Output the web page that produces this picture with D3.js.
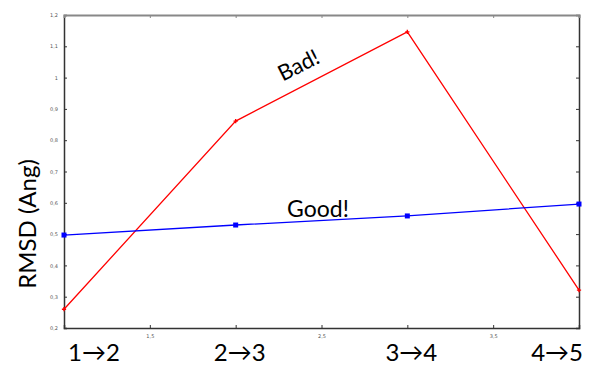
<!DOCTYPE html>
<html>
<head>
<meta charset="utf-8">
<script src="https://cdn.jsdelivr.net/npm/d3@7"></script>
<style>
  body { margin: 0; background: #fff; }
  svg { display: block; }
  .small-tick text { font-family: "DejaVu Sans", sans-serif; font-size: 5px; fill: #555; }
</style>
</head>
<body>
<svg id="chart" width="595" height="374"></svg>
<script>
// Chart data
const steps = [1, 2, 3, 4];
const stepLabels = ["1\u21922", "2\u21923", "3\u21924", "4\u21925"];
const badValues = [0.26, 0.861, 1.146, 0.321];
const goodValues = [0.497, 0.529, 0.558, 0.596];
const yTicks = [0.2, 0.3, 0.4, 0.5, 0.6, 0.7, 0.8, 0.9, 1, 1.1, 1.2];
const xTicks = [1, 1.5, 2, 2.5, 3, 3.5, 4];

const WIDTH = 595;
const HEIGHT = 374;
const margin = { left: 64, right: 16, top: 15, bottom: 46 };

const svg = d3.select("#chart");

const xScale = d3.scaleLinear()
  .domain([1, 4])
  .range([margin.left, WIDTH - margin.right]);
const yScale = d3.scaleLinear()
  .domain([0.2, 1.2])
  .range([HEIGHT - margin.bottom, margin.top]);

// comma as decimal separator like the original
const fmt = (d) => String(d).replace(".", ",");

// axes, ticks pointing inward
const leftAxis = svg.append("g")
  .attr("class", "small-tick")
  .attr("transform", `translate(${margin.left},0)`)
  .call(d3.axisLeft(yScale).tickValues(yTicks).tickSize(-3).tickPadding(6).tickFormat(fmt));
const rightAxis = svg.append("g")
  .attr("transform", `translate(${WIDTH - margin.right},0)`)
  .call(d3.axisRight(yScale).tickValues(yTicks).tickSize(-3).tickFormat(""));
const bottomAxis = svg.append("g")
  .attr("class", "small-tick")
  .attr("transform", `translate(0,${HEIGHT - margin.bottom})`)
  .call(d3.axisBottom(xScale).tickValues(xTicks).tickSize(-3).tickPadding(6)
    .tickFormat((d) => (Number.isInteger(d) ? "" : fmt(d))));
const topAxis = svg.append("g")
  .attr("transform", `translate(0,${margin.top})`)
  .call(d3.axisTop(xScale).tickValues(xTicks).tickSize(-3).tickFormat(""));

[leftAxis, rightAxis, bottomAxis].forEach((g) => {
  g.select(".domain").attr("stroke", "#333").attr("stroke-width", 1.5);
  g.selectAll(".tick line").attr("stroke", "#333");
});
topAxis.select(".domain").attr("stroke", "#888").attr("stroke-width", 2);
topAxis.selectAll(".tick line").attr("stroke", "#888");

// lines
const line = d3.line()
  .x((d, i) => xScale(steps[i]))
  .y((d) => yScale(d));

svg.append("path")
  .datum(badValues)
  .attr("fill", "none")
  .attr("stroke", "#ff0000")
  .attr("stroke-width", 1.3)
  .attr("d", line);

svg.append("path")
  .datum(goodValues)
  .attr("fill", "none")
  .attr("stroke", "#0000ff")
  .attr("stroke-width", 1.3)
  .attr("d", line);

// red plus markers
svg.selectAll(".bad-mark")
  .data(badValues)
  .enter()
  .append("path")
  .attr("class", "bad-mark")
  .attr("d", d3.symbol(d3.symbolCross, 10))
  .attr("fill", "#ff0000")
  .attr("transform", (d, i) => `translate(${xScale(steps[i])},${yScale(d)})`);

// blue square markers
svg.selectAll(".good-mark")
  .data(goodValues)
  .enter()
  .append("rect")
  .attr("class", "good-mark")
  .attr("width", 5)
  .attr("height", 5)
  .attr("x", (d, i) => xScale(steps[i]) - 2.5)
  .attr("y", (d) => yScale(d) - 2.5)
  .attr("fill", "#0000ff");

// big step labels under the x axis
const anchors = ["start", "middle", "middle", "end"];
svg.selectAll(".step-label")
  .data(stepLabels)
  .enter()
  .append("text")
  .attr("class", "step-label")
  .attr("x", (d, i) => xScale(steps[i]) + 4)
  .attr("y", 361)
  .attr("text-anchor", (d, i) => anchors[i])
  .style("font-family", "Lato, sans-serif")
  .style("font-size", "24px")
  .attr("fill", "#000")
  .text((d) => d);

// y axis title
svg.append("text")
  .attr("transform", "translate(36,224) rotate(-90)")
  .attr("text-anchor", "middle")
  .style("font-family", "Lato, sans-serif")
  .style("font-size", "24px")
  .attr("fill", "#000")
  .text("RMSD (Ang)");

// annotations
svg.append("text")
  .attr("transform", "translate(302,72) rotate(-27)")
  .attr("text-anchor", "middle")
  .style("font-family", "Lato, sans-serif")
  .style("font-size", "22px")
  .attr("fill", "#000")
  .text("Bad!");

svg.append("text")
  .attr("x", 318)
  .attr("y", 217)
  .attr("text-anchor", "middle")
  .style("font-family", "Lato, sans-serif")
  .style("font-size", "23px")
  .attr("fill", "#000")
  .text("Good!");
</script>
</body>
</html>
